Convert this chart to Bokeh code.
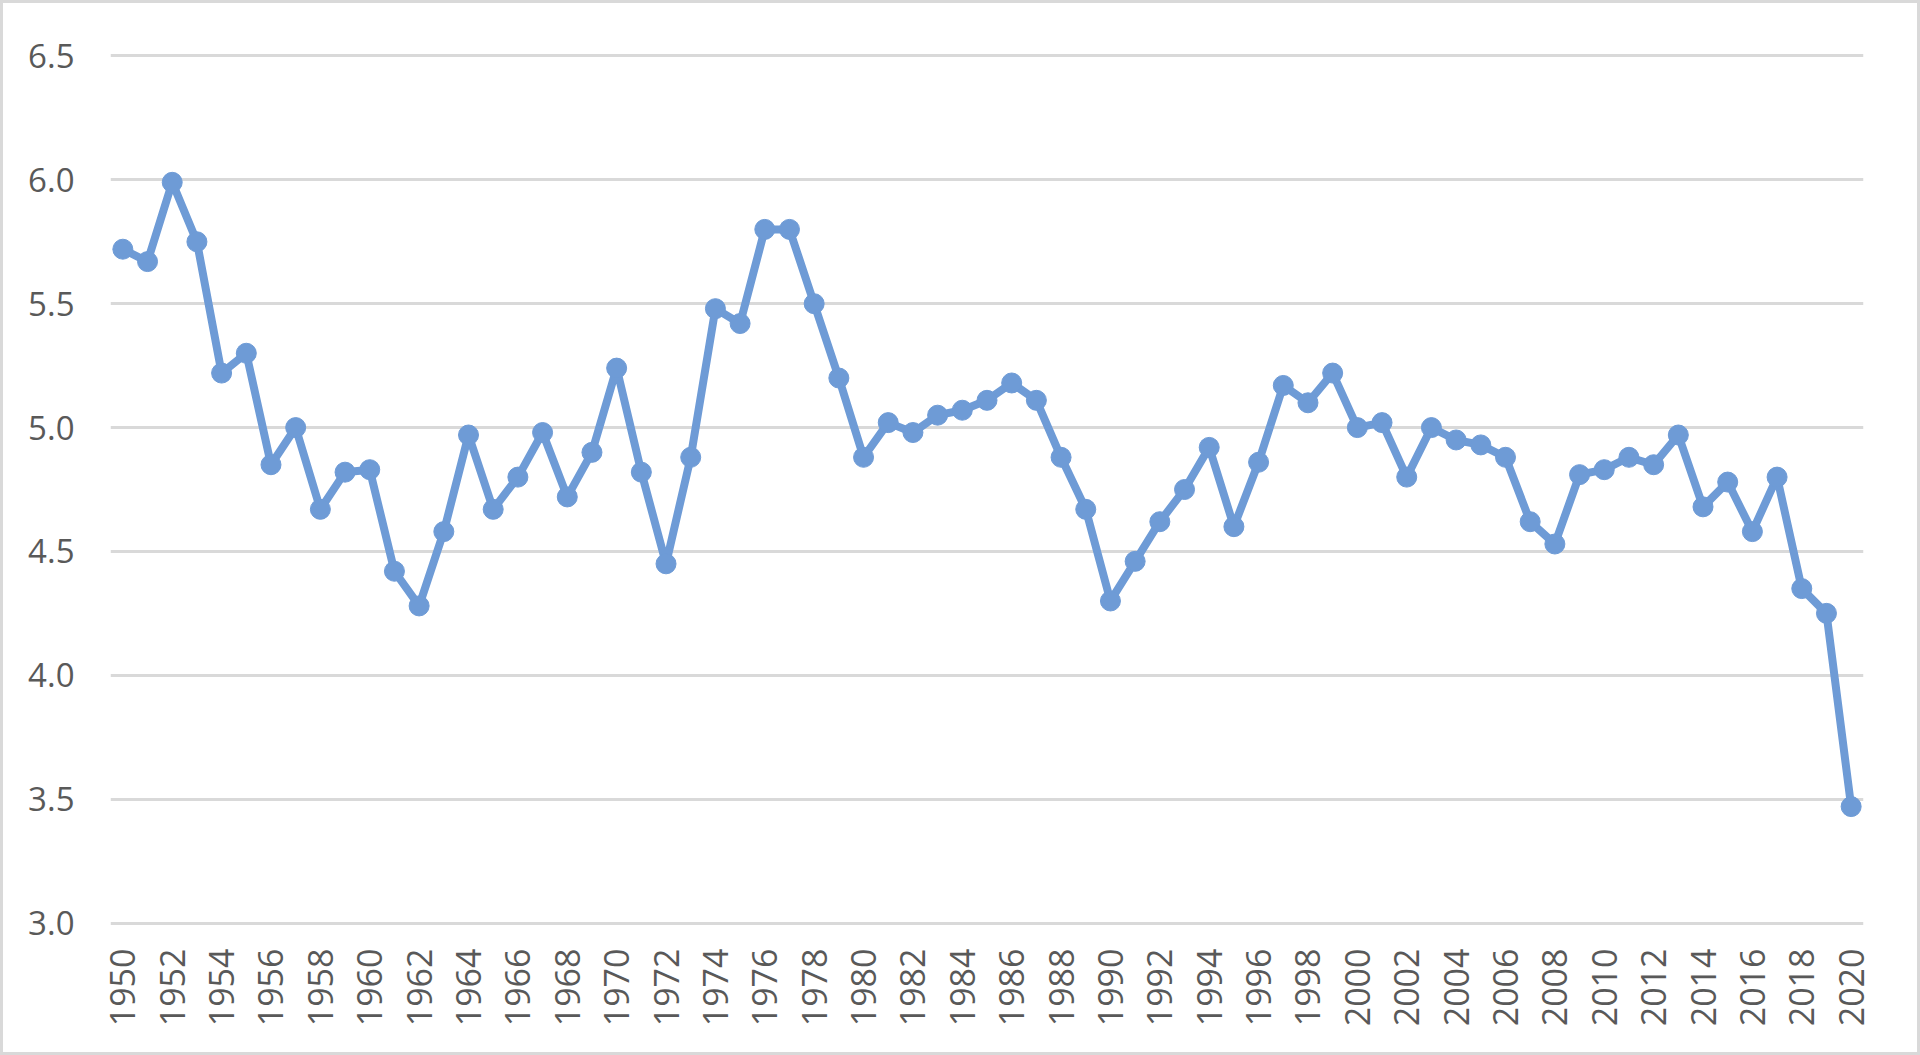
import math
from bokeh.plotting import figure
from bokeh.models import Range1d, FixedTicker, PrintfTickFormatter
from bokeh.embed import file_html
from bokeh.resources import INLINE

years = list(range(1950, 2021))
values = [
    5.72, 5.67, 5.99, 5.75, 5.22, 5.30, 4.85, 5.00, 4.67, 4.82,
    4.83, 4.42, 4.28, 4.58, 4.97, 4.67, 4.80, 4.98, 4.72, 4.90,
    5.24, 4.82, 4.45, 4.88, 5.48, 5.42, 5.80, 5.80, 5.50, 5.20,
    4.88, 5.02, 4.98, 5.05, 5.07, 5.11, 5.18, 5.11, 4.88, 4.67,
    4.30, 4.46, 4.62, 4.75, 4.92, 4.60, 4.86, 5.17, 5.10, 5.22,
    5.00, 5.02, 4.80, 5.00, 4.95, 4.93, 4.88, 4.62, 4.53, 4.81,
    4.83, 4.88, 4.85, 4.97, 4.68, 4.78, 4.58, 4.80, 4.35, 4.25,
    3.47,
]
y_ticks = [3.0, 3.5, 4.0, 4.5, 5.0, 5.5, 6.0, 6.5]
x_ticks = list(range(1950, 2021, 2))

COLOR = "#6e9bd6"
TEXT = "#595959"
FONT = "Open Sans"

p = figure(
    frame_width=1753, frame_height=872,
    min_border_left=107, min_border_right=54, min_border_top=50, min_border_bottom=127,
    x_range=Range1d(1949.5, 2020.5), y_range=Range1d(2.99, 6.51),
    output_backend="svg", toolbar_location=None,
    background_fill_color="white", border_fill_color="white",
)
p.styles = {"border": "3px solid #d9d9d9"}
p.outline_line_color = None
p.xgrid.visible = False
p.ygrid.grid_line_color = "#d9d9d9"
p.ygrid.grid_line_width = 3

p.yaxis.ticker = FixedTicker(ticks=y_ticks)
p.yaxis.formatter = PrintfTickFormatter(format="%.1f")
p.xaxis.ticker = FixedTicker(ticks=x_ticks)
p.xaxis.major_label_orientation = math.pi / 2

for ax in (p.xaxis, p.yaxis):
    ax.axis_line_color = None
    ax.major_tick_line_color = None
    ax.minor_tick_line_color = None
    ax.major_label_text_font = FONT
    ax.major_label_text_color = TEXT
p.yaxis.major_label_text_font_size = "33px"
p.xaxis.major_label_text_font_size = "34px"
p.yaxis.major_label_standoff = 30
p.xaxis.major_label_standoff = 17

p.line(years, values, line_width=8, color=COLOR, line_join="round")
p.scatter(years, values, size=20, color=COLOR)

open("out.html", "w").write(file_html(p, INLINE))
